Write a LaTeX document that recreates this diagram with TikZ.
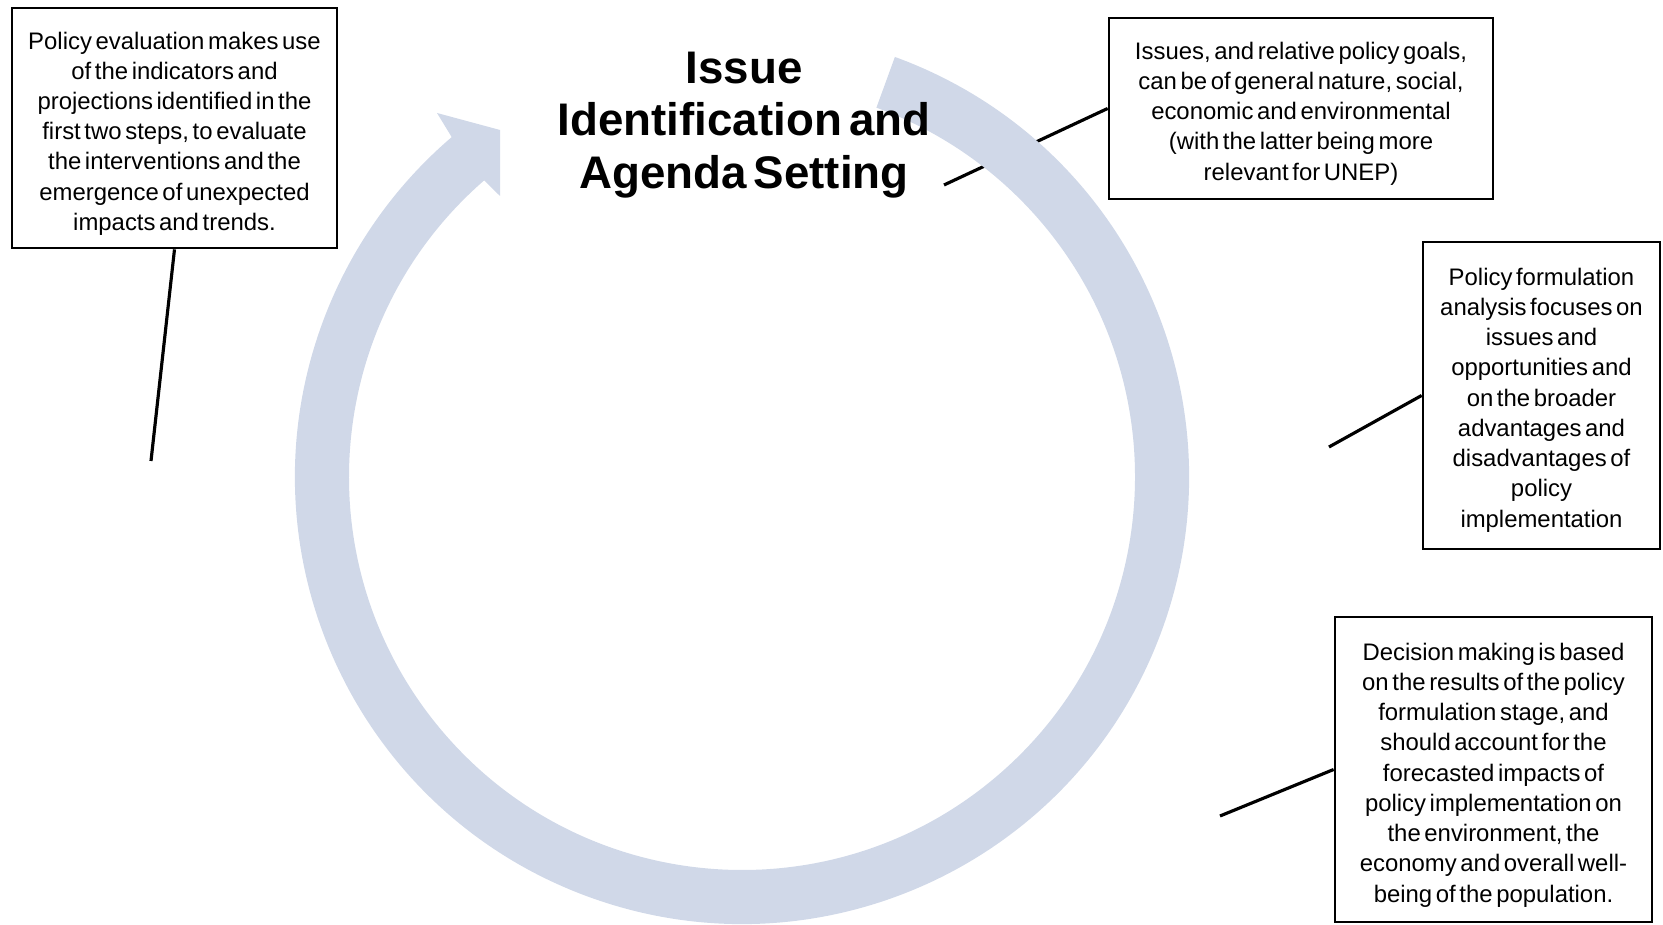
\documentclass[tikz,border=0pt]{standalone}
\usepackage{fontspec}
\setmainfont{Liberation Sans}[WordSpace=0.55]
\usepackage{tikz}
\usetikzlibrary{calc,positioning}
\definecolor{cyclefill}{HTML}{D0D8E8}
\tikzset{%
	notebox/.style  = {draw, rectangle, line width=1.6pt, inner sep=0pt},
	notetext/.style = {align=center, inner sep=0pt, font=\fontsize{13.6}{17.2}\selectfont},
	leader/.style   = {line width=1.8pt},
	stagetitle/.style = {align=center, font=\bfseries\fontsize{26}{30}\selectfont},
}

\begin{document}
\begin{tikzpicture}[x=0.02cm,y=0.02cm]
		\useasboundingbox (0,0) rectangle (1663,925);
		
		\node[notebox, minimum width=6.5cm, minimum height=4.8cm] (evaluation) at (174.5,797) {};
		\node[notebox, minimum width=7.68cm, minimum height=3.62cm] (goals) at (1301,816.5) {};
		\node[notebox, minimum width=4.74cm, minimum height=6.14cm] (formulation) at (1541.5,529.5) {};
		\node[notebox, minimum width=6.34cm, minimum height=6.1cm] (decision) at (1493.5,155.5) {};
		
		\node[notetext] (evaluation text) at ([yshift=-0.11cm]evaluation.center) {Policy evaluation makes use\\of the indicators and\\projections identified in the\\first two steps, to evaluate\\the interventions and the\\emergence of unexpected\\impacts and trends.};
		\node[notetext] (goals text) at ([yshift=-0.1cm]goals.center) {Issues, and relative policy goals,\\can be of general nature, social,\\economic and environmental\\(with the latter being more\\relevant for UNEP)};
		\node[notetext] (formulation text) at ([yshift=-0.09cm]formulation.center) {Policy formulation\\analysis focuses on\\issues and\\opportunities and\\on the broader\\advantages and\\disadvantages of\\policy\\implementation};
		\node[notetext] (decision text) at ([yshift=-0.11cm]decision.center) {Decision making is based\\on the results of the policy\\formulation stage, and\\should account for the\\forecasted impacts of\\policy implementation on\\the environment, the\\economy and overall well-\\being of the population.};
		
		\coordinate (evaluation end) at (151,464);
		\coordinate (goals end) at (944,740);
		\coordinate (formulation end) at (1329,478);
		\coordinate (decision end) at (1220,109);
		\foreach \from/\to in {evaluation.south/evaluation end, goals.west/goals end, formulation.west/formulation end, decision.west/decision end} \draw[leader] (\from) -- (\to);
		
		% cycle arrow, head cut off at the title
		\coordinate (c) at (742,448);
		\fill[cyclefill] ($(c)+(70:447)$) arc[start angle=70, end angle=-229.5, radius=447] -- (437,812) -- (500,795) -- (500,729) -- ($(c)+(-229:393)$) arc[start angle=-229, end angle=70, radius=393] -- cycle;
		
		\node[stagetitle] (issue) at (744,800) {Issue\\Identification and\\Agenda Setting};
	\end{tikzpicture}
\end{document}
